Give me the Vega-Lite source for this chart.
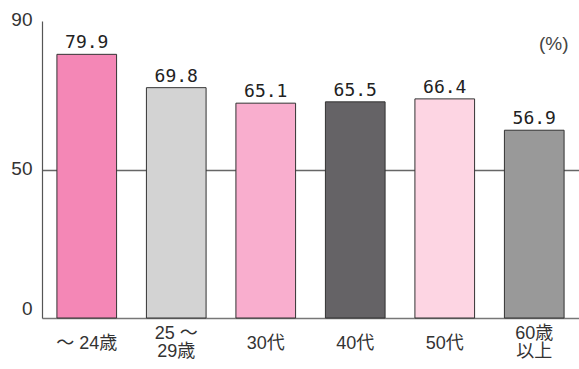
{
  "$schema": "https://vega.github.io/schema/vega-lite/v6.json",
  "width": 537,
  "height": 297,
  "autosize": {"type": "none"},
  "padding": {"left": 42, "top": 21, "right": 0, "bottom": 51},
  "background": "white",
  "config": {"view": {"stroke": null}},
  "data": {"values": [
    {"age": "〜 24歳", "rate": 79.9, "color": "#F487B6"},
    {"age": "25 〜|29歳", "rate": 69.8, "color": "#D3D3D3"},
    {"age": "30代", "rate": 65.1, "color": "#F9AECE"},
    {"age": "40代", "rate": 65.5, "color": "#656366"},
    {"age": "50代", "rate": 66.4, "color": "#FDD5E3"},
    {"age": "60歳|以上", "rate": 56.9, "color": "#999999"}
  ]},
  "encoding": {
    "x": {"field": "age", "type": "nominal", "sort": null,
      "scale": {"paddingInner": 0.3333, "paddingOuter": 0.1667},
      "axis": {"title": null, "labelAngle": 0, "ticks": false,
        "labelPadding": {"condition": {"test": "indexof(datum.label, '|') >= 0", "value": 15}, "value": 25},
        "labelBaseline": "middle",
        "labelExpr": "split(datum.label, '|')", "labelLineHeight": 18,
        "labelFont": "Liberation Sans, Noto Sans CJK JP, sans-serif", "labelFontSize": 18, "labelColor": "#333",
        "domainColor": "#777", "domainWidth": 1.5}},
    "y": {"field": "rate", "type": "quantitative",
      "scale": {"domain": [0, 90], "nice": false, "zero": true},
      "axis": {"title": "(%)", "titleAngle": 0, "titleX": 526, "titleY": 22, "titleAlign": "right", "titleBaseline": "middle",
        "titleFont": "Liberation Sans, sans-serif", "titleFontSize": 19, "titleFontWeight": "normal", "titleColor": "#444",
        "values": [0, 44.8, 90], "ticks": false, "labelPadding": 10,
        "labelExpr": "datum.value > 40 && datum.value < 50 ? '50' : datum.label",
        "labelFlush": false,
        "labelOffset": {"condition": {"test": "datum.value == 0", "value": -10}, "value": -2},
        "labelFont": "Liberation Sans, sans-serif", "labelFontSize": 19, "labelColor": "#333",
        "domainColor": "#555", "domainWidth": 1.2,
        "grid": true,
        "gridColor": "#666", "gridWidth": 1.5,
        "gridOpacity": {"condition": {"test": "datum.value > 40 && datum.value < 50", "value": 1}, "value": 0}}}
  },
  "layer": [
    {"mark": {"type": "bar", "stroke": "#333", "strokeWidth": 1},
     "encoding": {"fill": {"field": "color", "type": "nominal", "scale": null}}},
    {"mark": {"type": "text", "baseline": "alphabetic", "dy": -6, "font": "DejaVu Sans Mono", "fontSize": 18, "color": "#222"},
     "encoding": {"text": {"field": "rate", "type": "quantitative", "format": ".1f"}}}
  ]
}
